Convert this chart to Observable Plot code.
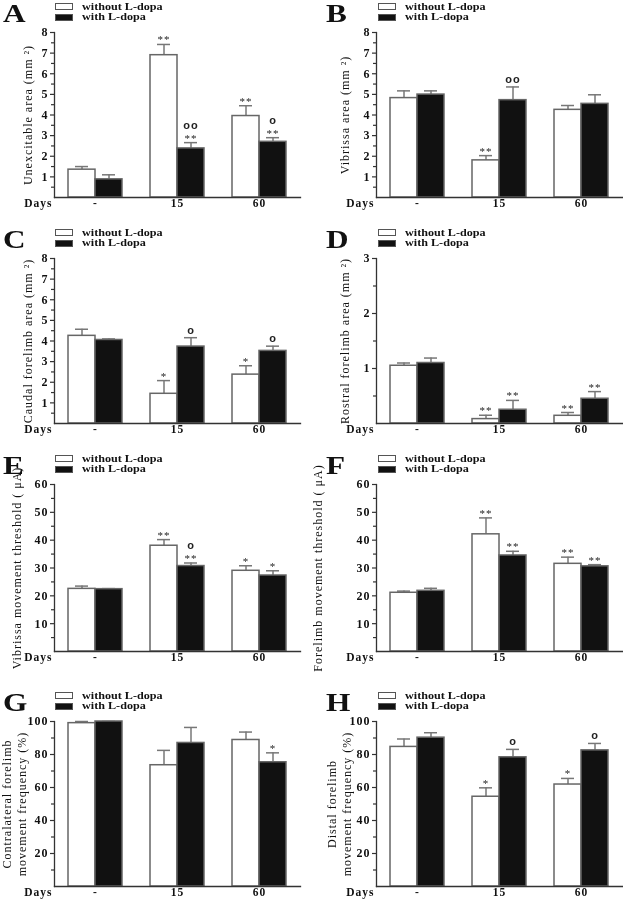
<!DOCTYPE html>
<html>
<head>
<meta charset="utf-8">
<script src="https://cdn.jsdelivr.net/npm/d3@7"></script>
<script src="https://cdn.jsdelivr.net/npm/@observablehq/plot@0.6"></script>
<style>
  body { margin: 0; background: #fff; }
  #fig { position: relative; width: 623px; height: 900px; overflow: hidden; font-family: "Liberation Serif", "Times New Roman", serif; color: #111; }
  .panel { position: absolute; will-change: transform; }
  .panel svg { overflow: visible; }
  .panel g[aria-label="ylabel"] { letter-spacing: 0.9px; }
  .panel g[aria-label="stars"] { letter-spacing: 2.5px; }
  .panel g[aria-label="circles"] { letter-spacing: 0.5px; }
  .letter { position: absolute; font-weight: bold; font-size: 25px; line-height: 25px; transform: scaleX(1.25); transform-origin: left top; }
  .leg { position: absolute; width: 120px; height: 22px; }
  .legtxt { position: absolute; left: 27px; top: 0; line-height: 10.8px; font-weight: bold; font-size: 9.8px; white-space: nowrap; transform: scaleX(1.24); transform-origin: left top; }
  .box { position: absolute; left: 0; width: 18px; height: 7px; box-sizing: border-box; border: 1px solid #555; }
</style>
</head>
<body>
<div id="fig"></div>
<script>
// ---------- shared categories ----------
const days = ["-", "15", "60"];
const groups = ["without L-dopa", "with L-dopa"];

// ---------- tick labels ----------
const yTicks8 = [1, 2, 3, 4, 5, 6, 7, 8];
const yTicks3 = [1, 2, 3];
const yTicks60 = [10, 20, 30, 40, 50, 60];
const yTicks100 = [20, 40, 60, 80, 100];

// ---------- A: Unexcitable area ----------
const aWithoutMean = [1.35, 6.9, 3.95];
const aWithoutSem = [0.15, 0.52, 0.5];
const aWithMean = [0.88, 2.38, 2.7];
const aWithSem = [0.22, 0.28, 0.2];
const aWithoutStars = ["", "**", "**"];
const aWithStars = ["", "**", "**"];
const aWithCircles = ["", "oo", "o"];

// ---------- B: Vibrissa area ----------
const bWithoutMean = [4.82, 1.8, 4.25];
const bWithoutSem = [0.35, 0.23, 0.21];
const bWithMean = [4.99, 4.72, 4.54];
const bWithSem = [0.18, 0.64, 0.44];
const bWithoutStars = ["", "**", ""];
const bWithStars = ["", "", ""];
const bWithCircles = ["", "oo", ""];

// ---------- C: Caudal forelimb area ----------
const cWithoutMean = [4.25, 1.44, 2.37];
const cWithoutSem = [0.32, 0.64, 0.43];
const cWithMean = [4.05, 3.73, 3.52];
const cWithSem = [0.05, 0.43, 0.23];
const cWithoutStars = ["", "*", "*"];
const cWithStars = ["", "", ""];
const cWithCircles = ["", "o", "o"];

// ---------- D: Rostral forelimb area ----------
const dWithoutMean = [1.05, 0.08, 0.14];
const dWithoutSem = [0.05, 0.07, 0.06];
const dWithMean = [1.1, 0.25, 0.45];
const dWithSem = [0.09, 0.17, 0.13];
const dWithoutStars = ["", "**", "**"];
const dWithStars = ["", "**", "**"];
const dWithCircles = ["", "", ""];

// ---------- E: Vibrissa movement threshold ----------
const eWithoutMean = [22.5, 38, 29];
const eWithoutSem = [1, 2.2, 1.8];
const eWithMean = [22.4, 30.7, 27.3];
const eWithSem = [0.2, 1.1, 1.7];
const eWithoutStars = ["", "**", "*"];
const eWithStars = ["", "**", "*"];
const eWithCircles = ["", "o", ""];

// ---------- F: Forelimb movement threshold ----------
const fWithoutMean = [21.1, 42.1, 31.5];
const fWithoutSem = [0.6, 5.9, 2.4];
const fWithMean = [21.8, 34.5, 30.6];
const fWithSem = [0.9, 1.5, 0.6];
const fWithoutStars = ["", "**", "**"];
const fWithStars = ["", "**", "**"];
const fWithCircles = ["", "", ""];

// ---------- G: Contralateral forelimb movement frequency ----------
const gWithoutMean = [99, 73.5, 88.8];
const gWithoutSem = [1, 9, 4.8];
const gWithMean = [100, 87, 75.3];
const gWithSem = [0, 9.4, 5.7];
const gWithoutStars = ["", "", ""];
const gWithStars = ["", "", "*"];
const gWithCircles = ["", "", ""];

// ---------- H: Distal forelimb movement frequency ----------
const hWithoutMean = [84.6, 54.4, 61.8];
const hWithoutSem = [4.8, 5.4, 3.7];
const hWithMean = [90.2, 78.3, 82.5];
const hWithSem = [3, 4.8, 4.2];
const hWithoutStars = ["", "*", "*"];
const hWithStars = ["", "", ""];
const hWithCircles = ["", "o", "o"];

// ---------- layout ----------
const cols = [{left: 0, ml: 53}, {left: 322, ml: 54}];
const rowsY = [{top: 32, base: 197}, {top: 258, base: 423}, {top: 484, base: 651}, {top: 721, base: 886}];

const panels = [
  {letter: "A", col: 0, row: 0, label: "Unexcitable area (mm ²)", labelDx: -27, domain: [0, 8], ticks: yTicks8,
   wo: [aWithoutMean, aWithoutSem, aWithoutStars], w: [aWithMean, aWithSem, aWithStars, aWithCircles]},
  {letter: "B", col: 1, row: 0, label: "Vibrissa area (mm ²)", labelDx: -32, domain: [0, 8], ticks: yTicks8,
   wo: [bWithoutMean, bWithoutSem, bWithoutStars], w: [bWithMean, bWithSem, bWithStars, bWithCircles]},
  {letter: "C", col: 0, row: 1, label: "Caudal forelimb area (mm ²)", labelDx: -27, domain: [0, 8], ticks: yTicks8,
   wo: [cWithoutMean, cWithoutSem, cWithoutStars], w: [cWithMean, cWithSem, cWithStars, cWithCircles]},
  {letter: "D", col: 1, row: 1, label: "Rostral forelimb area (mm ²)", labelDx: -32, domain: [0, 3], ticks: yTicks3,
   wo: [dWithoutMean, dWithoutSem, dWithoutStars], w: [dWithMean, dWithSem, dWithStars, dWithCircles]},
  {letter: "E", col: 0, row: 2, label: "Vibrissa movement threshold ( μA)", labelDx: -38, domain: [0, 60], ticks: yTicks60,
   wo: [eWithoutMean, eWithoutSem, eWithoutStars], w: [eWithMean, eWithSem, eWithStars, eWithCircles]},
  {letter: "F", col: 1, row: 2, label: "Forelimb movement threshold ( μA)", labelDx: -59, domain: [0, 60], ticks: yTicks60,
   wo: [fWithoutMean, fWithoutSem, fWithoutStars], w: [fWithMean, fWithSem, fWithStars, fWithCircles]},
  {letter: "G", col: 0, row: 3, label: "Contralateral forelimb\nmovement frequency (%)", labelDx: -41, domain: [0, 100], ticks: yTicks100,
   wo: [gWithoutMean, gWithoutSem, gWithoutStars], w: [gWithMean, gWithSem, gWithStars, gWithCircles]},
  {letter: "H", col: 1, row: 3, label: "Distal forelimb\nmovement frequency (%)", labelDx: -38, domain: [0, 100], ticks: yTicks100,
   wo: [hWithoutMean, hWithoutSem, hWithoutStars], w: [hWithMean, hWithSem, hWithStars, hWithCircles]}
];

const fig = document.getElementById("fig");
const MT = 14, MB = 14;
const intFmt = d3.format("d");
const circleFont = "'Liberation Sans', Arial, sans-serif";

for (const p of panels) {
  const c = cols[p.col], r = rowsY[p.row];
  const rows = [];
  days.forEach((day, i) => {
    rows.push({day, group: groups[0], mean: p.wo[0][i], top: p.wo[0][i] + p.wo[1][i], star: p.wo[2][i], circle: ""});
    rows.push({day, group: groups[1], mean: p.w[0][i], top: p.w[0][i] + p.w[1][i], star: p.w[2][i], circle: p.w[3][i]});
  });
  const step = p.ticks[1] - p.ticks[0];
  const minor = d3.range(step / 2, p.domain[1], step);

  const chart = Plot.plot({
    width: 300,
    height: r.base - r.top + MT + MB,
    marginLeft: c.ml, marginRight: 0, marginTop: MT, marginBottom: MB,
    style: {fontFamily: "'Liberation Serif', 'Times New Roman', serif", fontSize: "12px", fontWeight: "bold", background: "transparent", color: "#111", letterSpacing: "1px", overflow: "visible"},
    fx: {domain: days, padding: 0, label: null, axis: null},
    x: {domain: groups, paddingInner: 0, paddingOuter: 0.5, axis: null},
    y: {domain: p.domain, axis: null},
    color: {domain: groups, range: ["#ffffff", "#111111"]},
    marks: [
      Plot.axisFx({anchor: "bottom", tickSize: 0, tickPadding: 1, label: null, fontSize: 11.5}),
      Plot.axisY({ticks: p.ticks, tickFormat: intFmt, tickSize: 4, tickPadding: 2, label: null, stroke: "#333", strokeWidth: 1.2}),
      Plot.axisY({ticks: minor, tickSize: 3, text: null, label: null, stroke: "#333", strokeWidth: 1.2}),
      Plot.ruleX(rows, {fx: "day", x: "group", y1: "mean", y2: "top", stroke: "#777", strokeWidth: 1.5}),
      Plot.tickY(rows, {fx: "day", x: "group", y: "top", stroke: "#777", strokeWidth: 1.5, inset: 7}),
      Plot.barY(rows, {fx: "day", x: "group", y: "mean", fill: "group", stroke: "#666", strokeWidth: 1.5}),
      Plot.text(rows.filter(d => d.star), {fx: "day", x: "group", y: "top", text: "star", lineAnchor: "bottom", dy: -1, fontSize: 11, fontWeight: "normal", fill: "#222", ariaLabel: "stars"}),
      Plot.text(rows.filter(d => d.circle && d.star), {fx: "day", x: "group", y: "top", text: "circle", lineAnchor: "bottom", dy: -13.5, fontSize: 11, fontFamily: circleFont, fontWeight: "bold", fill: "#222", ariaLabel: "circles"}),
      Plot.text(rows.filter(d => d.circle && !d.star), {fx: "day", x: "group", y: "top", text: "circle", lineAnchor: "bottom", dy: -4, fontSize: 11, fontFamily: circleFont, fontWeight: "bold", fill: "#222", ariaLabel: "circles"}),
      Plot.frame({anchor: "left", facet: "super", stroke: "#333", strokeWidth: 1.3}),
      Plot.frame({anchor: "bottom", facet: "super", stroke: "#333", strokeWidth: 1.3}),
      Plot.text(["Days"], {text: d => d, frameAnchor: "bottom-left", dx: -2, dy: 1, lineAnchor: "top", textAnchor: "end", fontSize: 11.5, facet: "super"}),
      Plot.text([p.label], {text: d => d, frameAnchor: "left", rotate: -90, dx: p.labelDx, textAnchor: "middle", lineAnchor: "middle", lineHeight: 1.25, fontSize: 12, fontWeight: "normal", facet: "super", ariaLabel: "ylabel"})
    ]
  });
  const holder = document.createElement("div");
  holder.className = "panel";
  holder.style.left = c.left + "px";
  holder.style.top = (r.top - MT) + "px";
  holder.appendChild(chart);
  fig.appendChild(holder);

  const ax = c.left + c.ml;
  const letter = document.createElement("div");
  letter.className = "letter";
  letter.textContent = p.letter;
  letter.style.left = (ax - 50) + "px";
  letter.style.top = (r.top - 31) + "px";
  fig.appendChild(letter);

  const leg = document.createElement("div");
  leg.className = "leg";
  leg.style.left = (ax + 2) + "px";
  leg.style.top = (r.top - 30.5) + "px";
  const txt = document.createElement("div");
  txt.className = "legtxt";
  groups.forEach((g, gi) => {
    const box = document.createElement("span");
    box.className = "box";
    box.style.top = (1.5 + gi * 10.8) + "px";
    box.style.background = gi === 0 ? "#fff" : "#111";
    leg.appendChild(box);
    if (gi > 0) txt.appendChild(document.createElement("br"));
    txt.appendChild(document.createTextNode(g));
  });
  leg.appendChild(txt);
  fig.appendChild(leg);
}
</script>
</body>
</html>
